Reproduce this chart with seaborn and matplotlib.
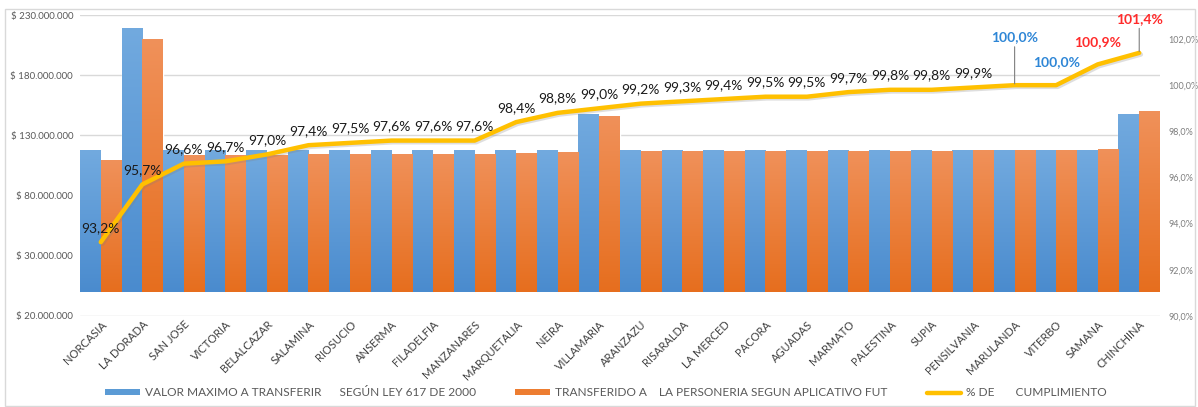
import numpy as np
import pandas as pd
import seaborn as sns
import matplotlib
matplotlib.use("Agg")
import matplotlib.pyplot as plt
import matplotlib.patheffects as pe
from matplotlib.colors import LinearSegmentedColormap
from matplotlib.patches import Patch, Rectangle
from matplotlib.lines import Line2D

municipios = [
    "NORCASIA", "LA DORADA", "SAN JOSE", "VICTORIA", "BELALCAZAR", "SALAMINA",
    "RIOSUCIO", "ANSERMA", "FILADELFIA", "MANZANARES", "MARQUETALIA", "NEIRA",
    "VILLAMARIA", "ARANZAZU", "RISARALDA", "LA MERCED", "PACORA", "AGUADAS",
    "MARMATO", "PALESTINA", "SUPIA", "PENSILVANIA", "MARULANDA", "VITERBO",
    "SAMANA", "CHINCHINA",
]
valor_maximo = [
    117.6, 219.3, 117.6, 117.6, 117.6, 117.6, 117.6, 117.6, 117.6, 117.6,
    117.6, 117.6, 148.0, 117.6, 117.6, 117.6, 117.6, 117.6, 117.6, 117.6,
    117.6, 117.6, 117.6, 117.6, 117.6, 148.0,
]  # millones de pesos
transferido = [
    109.6, 209.9, 113.6, 113.7, 114.1, 114.5, 114.7, 114.8, 114.8, 114.8,
    115.7, 116.2, 146.5, 116.7, 116.8, 116.9, 117.0, 117.0, 117.2, 117.4,
    117.4, 117.5, 117.6, 117.6, 118.7, 150.1,
]  # millones de pesos
cumplimiento = [
    93.2, 95.7, 96.6, 96.7, 97.0, 97.4, 97.5, 97.6, 97.6, 97.6,
    98.4, 98.8, 99.0, 99.2, 99.3, 99.4, 99.5, 99.5, 99.7, 99.8,
    99.8, 99.9, 100.0, 100.0, 100.9, 101.4,
]  # porcentaje

serie_max = "VALOR MAXIMO A TRANSFERIR      SEGÚN LEY 617 DE 2000"
serie_tra = "TRANSFERIDO A    LA PERSONERIA SEGUN APLICATIVO FUT"
serie_pct = "% DE       CUMPLIMIENTO"

BLUE, BLUE_TOP, BLUE_BOT = "#5B9BD5", "#72AADF", "#4A8BCE"
ORANGE, ORANGE_TOP, ORANGE_BOT = "#ED7D31", "#F0915A", "#E66E1E"
YELLOW = "#FFC000"
GRAY = "#595959"

sns.set_theme(style="white")
plt.rcParams["font.family"] = ["Lato", "DejaVu Sans"]

df = pd.DataFrame({
    "municipio": municipios * 2,
    "serie": [serie_max] * len(municipios) + [serie_tra] * len(municipios),
    "valor": np.array(valor_maximo + transferido) * 1e6,
})

fig = plt.figure(figsize=(11.98, 4.07), dpi=100)
ax = fig.add_axes([80 / 1198, 1 - 316 / 407, 1080 / 1198, 301 / 407])

sns.barplot(data=df, x="municipio", y="valor", hue="serie",
            palette=[BLUE, ORANGE], width=1.0, gap=0, saturation=1,
            legend=False, ax=ax, zorder=2)

# vertical gradient fill on each bar
grad = np.linspace(0, 1, 256).reshape(-1, 1)
for cont, (top, bot) in zip(ax.containers, [(BLUE_TOP, BLUE_BOT), (ORANGE_TOP, ORANGE_BOT)]):
    cmap = LinearSegmentedColormap.from_list("g", [bot, top])
    for p in cont.patches:
        x0, y0, w, h = p.get_x(), p.get_y(), p.get_width(), p.get_height()
        im = ax.imshow(grad, extent=[x0, x0 + w, y0, y0 + h], origin="lower",
                       aspect="auto", cmap=cmap, zorder=2.1, interpolation="bilinear")
        im.set_clip_path(p)

n = len(municipios)
ax.set_xlim(-0.5, n - 0.5)
ax.set_ylim(-20e6, 230e6)
yt = np.arange(-20e6, 230e6 + 1, 50e6)
ax.set_yticks(yt)
ax.set_yticklabels([f"$ {abs(int(v)):,}".replace(",", ".") for v in yt],
                   fontsize=7, color=GRAY)
ax.yaxis.grid(True, color="#D9D9D9", lw=1, zorder=0)
ax.set_axisbelow(True)
ax.set_xlabel("")
ax.set_ylabel("")
ax.tick_params(axis="both", length=0)
ax.tick_params(axis="y", pad=5)
ax.set_xticks(range(n))
ax.set_xticklabels(municipios, rotation=45, ha="right", rotation_mode="anchor",
                   fontsize=8, color="#404040")
ax.tick_params(axis="x", pad=2)
for s in ax.spines.values():
    s.set_visible(False)

# compliance percentage on the secondary axis
ax2 = ax.twinx()
sns.lineplot(x=np.arange(n), y=cumplimiento, ax=ax2, color=YELLOW, lw=3.2,
             solid_capstyle="round", solid_joinstyle="round",
             path_effects=[pe.SimpleLineShadow(offset=(1.2, -1.2), alpha=0.25, shadow_color="#7F7F7F"),
                           pe.Normal()])
ax2.set_ylim(90, 103.04)
ax2.set_yticks(np.arange(90, 102.1, 2))
ax2.set_yticklabels([f"{v:.1f}%".replace(".", ",") for v in np.arange(90, 102.1, 2)],
                    fontsize=6.5, color="#7F7F7F")
ax2.tick_params(axis="y", length=0, pad=6)
ax2.set_xlim(-0.5, n - 0.5)
for s in ax2.spines.values():
    s.set_visible(False)

special = {
    22: ("#2E86D6", 30),
    23: ("#2E86D6", 12),
    24: ("#FF2B2B", 12),
    25: ("#FF2B2B", 20),
}
for i, v in enumerate(cumplimiento):
    txt = f"{v:.1f}%".replace(".", ",")
    if i in special:
        col, dy = special[i]
        ax2.annotate(txt, (i, v), xytext=(0, dy), textcoords="offset points",
                     ha="center", va="bottom", fontsize=10, fontweight="bold", color=col,
                     arrowprops=dict(arrowstyle="-", color="#7F7F7F", lw=0.8,
                                     shrinkA=0, shrinkB=1) if dy > 15 else None)
    else:
        ax2.annotate(txt, (i, v), xytext=(0, 6), textcoords="offset points",
                     ha="center", va="bottom", fontsize=10, color="#1A1A1A")

handles = [
    Patch(facecolor=BLUE, edgecolor="none"),
    Patch(facecolor=ORANGE, edgecolor="none"),
    Line2D([], [], color=YELLOW, lw=3.2, solid_capstyle="round"),
]
fig.legend(handles, [serie_max, serie_tra, serie_pct], loc="center",
           bbox_to_anchor=(606 / 1198, 1 - 393 / 407), ncol=3, frameon=False,
           fontsize=8.6, labelcolor=GRAY, handlelength=2.9, handleheight=0.35,
           handletextpad=0.4, columnspacing=3.3)

fig.patches.append(Rectangle((5 / 1198, 1 / 407), 1190 / 1198, 397 / 407,
                             transform=fig.transFigure, fill=False,
                             edgecolor="#D9D9D9", lw=1))

fig.savefig("out.png", dpi=100)
